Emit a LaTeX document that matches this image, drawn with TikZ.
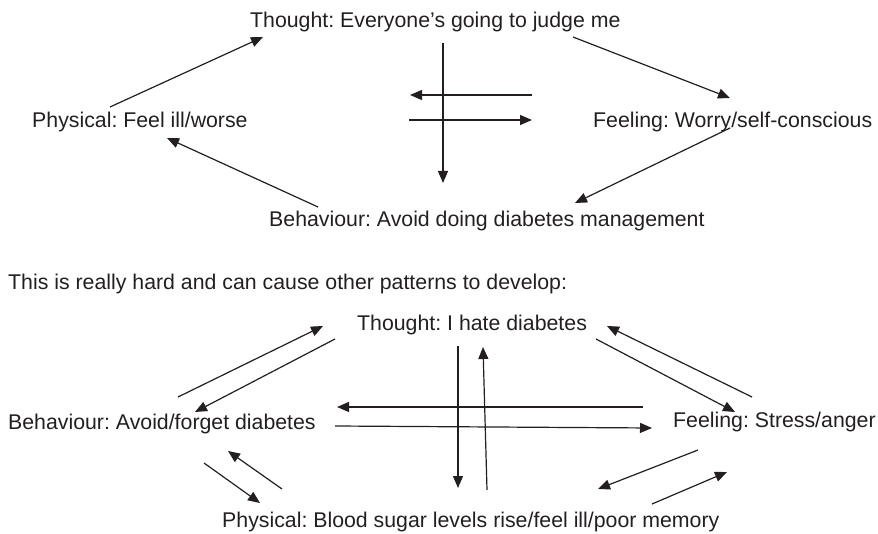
\documentclass[tikz,border=0pt]{standalone}
\usepackage{fontspec}
\setmainfont{Liberation Sans}
\usetikzlibrary{arrows.meta}
\definecolor{ink}{HTML}{231F20}
\frenchspacing
\tikzset{
  lbl/.style={anchor=base west, inner sep=0pt, text=ink, font=\fontsize{21.3}{25}\selectfont},
  arr/.style={draw=ink, line width=1.2pt, -{Triangle[length=12pt,width=10pt]}},
}
\begin{document}
\begin{tikzpicture}[x=1pt,y=-1pt]
\useasboundingbox (0,0) rectangle (878,534);
% first cycle
\node[lbl] (th1) at (250,28) {Thought: Everyone's going to judge me};
\node[lbl] (ph1) at (32,128) {Physical: Feel ill/worse};
\node[lbl] (fe1) at (593,128) {Feeling: Worry/self-conscious};
\node[lbl] (be1) at (269,227) {Behaviour: Avoid doing diabetes management};
\draw[arr] ([shift={(78,-21)}]ph1.base west) -- ([shift={(13,9)}]th1.base west);
\draw[arr] ([shift={(323,9)}]th1.base west) -- ([shift={(137,-30)}]fe1.base west);
\draw[arr] ([shift={(137,0)}]fe1.base west) -- ([shift={(306,-24)}]be1.base west);
\draw[arr] ([shift={(49,-20)}]be1.base west) -- ([shift={(135,10)}]ph1.base west);
% cross in the middle
\draw[arr] ([shift={(193,15)}]th1.base west) -- ([shift={(174,-44)}]be1.base west);
\draw[arr] ([shift={(-61,-33)}]fe1.base west) -- ([shift={(378,-33)}]ph1.base west);
\draw[arr] ([shift={(377,-8)}]ph1.base west) -- ([shift={(-61,-8)}]fe1.base west);
\node[lbl] (intro) at (8,290) {This is really hard and can cause other patterns to develop:};
% second cycle
\node[lbl] (th2) at (357,331) {Thought: I hate diabetes};
\node[lbl] (be2) at (8,429) {Behaviour: Avoid/forget diabetes};
\node[lbl] (fe2) at (673,428) {Feeling: Stress/anger};
\node[lbl] (ph2) at (222,527) {Physical: Blood sugar levels rise/feel ill/poor memory};
\draw[arr] ([shift={(170,-32)}]be2.base west) -- ([shift={(-34,-5)}]th2.base west);
\draw[arr] ([shift={(-22,8)}]th2.base west) -- ([shift={(187,-17)}]be2.base west);
\draw[arr] ([shift={(-30,-21)}]fe2.base west) -- ([shift={(329,-22)}]be2.base west);
\draw[arr] ([shift={(327,-3)}]be2.base west) -- ([shift={(-21,0)}]fe2.base west);
\draw[arr] ([shift={(101,15)}]th2.base west) -- ([shift={(236,-39)}]ph2.base west);
\draw[arr] ([shift={(265,-37)}]ph2.base west) -- ([shift={(126,16)}]th2.base west);
\draw[arr] ([shift={(239,8)}]th2.base west) -- ([shift={(62,-16)}]fe2.base west);
\draw[arr] ([shift={(79,-31)}]fe2.base west) -- ([shift={(250,-5)}]th2.base west);
\draw[arr] ([shift={(25,22)}]fe2.base west) -- ([shift={(376,-38)}]ph2.base west);
\draw[arr] ([shift={(430,-23)}]ph2.base west) -- ([shift={(54,44)}]fe2.base west);
\draw[arr] ([shift={(196,34)}]be2.base west) -- ([shift={(38,-24)}]ph2.base west);
\draw[arr] ([shift={(60,-38)}]ph2.base west) -- ([shift={(220,22)}]be2.base west);
\end{tikzpicture}
\end{document}
